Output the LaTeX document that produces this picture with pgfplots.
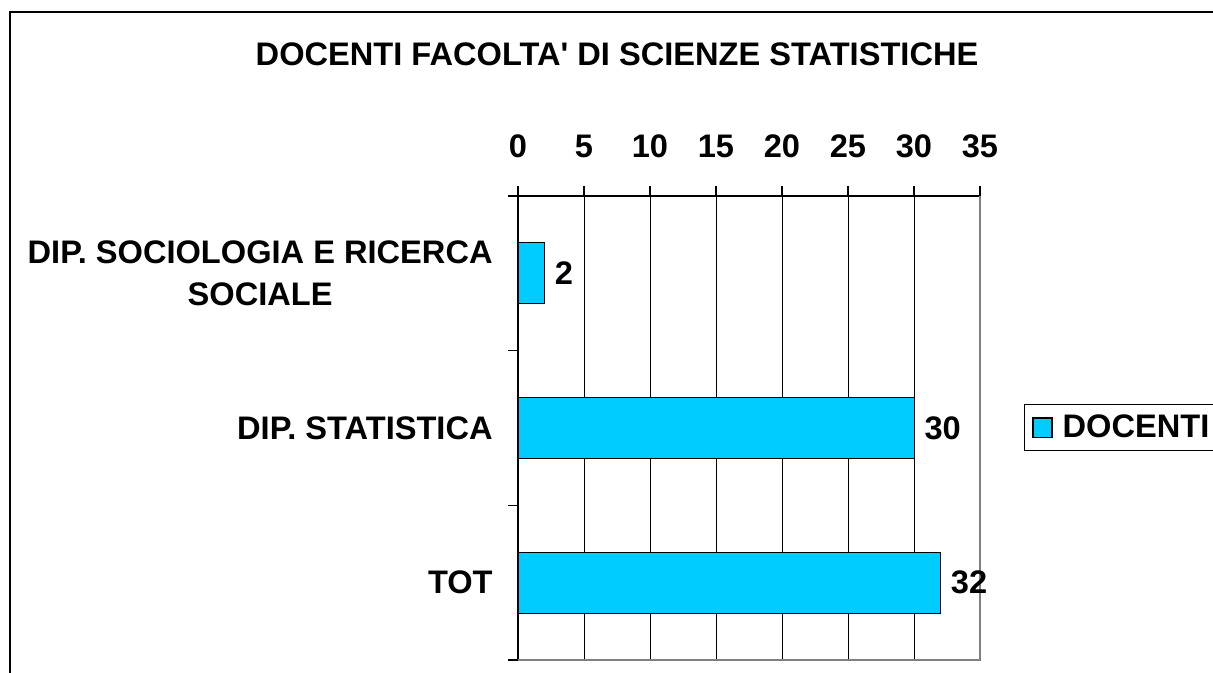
\documentclass[border=0pt]{standalone}
\usepackage{pgfplots}
\pgfplotsset{compat=1.18}
\usepackage{fontspec}
\setmainfont{Liberation Sans}
\definecolor{barcyan}{HTML}{00CCFF}
\newcommand{\lblfont}{\fontsize{16.3}{21}\selectfont\bfseries}

\begin{document}
\begin{tikzpicture}
\useasboundingbox (0,0) rectangle (606.5pt,336.5pt);
% outer chart frame (cut at right and bottom)
\draw[line width=1pt] (5pt,-2pt) -- (5pt,330.5pt) -- (612pt,330.5pt);
\node[font=\lblfont, anchor=base] at (308.5pt,303.5pt) {DOCENTI FACOLTA\textquotesingle{} DI SCIENZE STATISTICHE};
\begin{axis}[
    at={(259pt,6.5pt)}, anchor=south west,
    scale only axis, width=231pt, height=232pt,
    xbar, bar width=30.5pt,
    xmin=0, xmax=35, ymin=0.5, ymax=3.5,
    axis x line*=top, axis y line*=left,
    axis line style={black, line width=0.6pt},
    xtick={0,5,...,35},
    xtick style={black, line width=0.6pt},
    major tick length=5pt,
    tick align=outside,
    xticklabel style={font=\lblfont, anchor=base, yshift=14pt, inner sep=0pt},
    /pgf/number format/assume math mode=true,
    ytick={1,2,3},
    yticklabels={TOT, DIP. STATISTICA, {DIP. SOCIOLOGIA E RICERCA\\SOCIALE}},
    yticklabel style={font=\lblfont, align=center, anchor=east, inner sep=0pt, xshift=-7.5pt},
    ytick style={draw=none},
    xmajorgrids, grid style={black, line width=0.5pt},
    nodes near coords,
    nodes near coords style={font=\lblfont, anchor=west, inner sep=0pt, xshift=5pt},
    legend style={at={(1.0952,0.501)}, anchor=west, draw=black, line width=0.5pt,
        font=\lblfont, inner xsep=4pt, inner ysep=3pt},
    legend image code/.code={\draw[fill=barcyan, draw=black, line width=0.6pt] (0pt,-4.8pt) rectangle (9.5pt,4.8pt);},
    clip=false,
]
% DOCENTI
\addplot[fill=barcyan, draw=black, line width=0.5pt] coordinates {
    (32, 1)
    (30, 2)
    (2, 3)
};
\addlegendentry{\hspace{3pt}DOCENTI\hspace{12pt}}
% right and bottom plot-area border in gray
\draw[gray, line width=0.9pt] (axis cs:35,3.5) -- (axis cs:35,0.5) -- (axis cs:0,0.5);
% category separator ticks on the left axis
\pgfplotsinvokeforeach{0.5,1.5,2.5,3.5}{
    \draw[black, line width=0.6pt] (axis cs:0,#1) -- ++(-5pt,0pt);
}
\end{axis}
\end{tikzpicture}
\end{document}
